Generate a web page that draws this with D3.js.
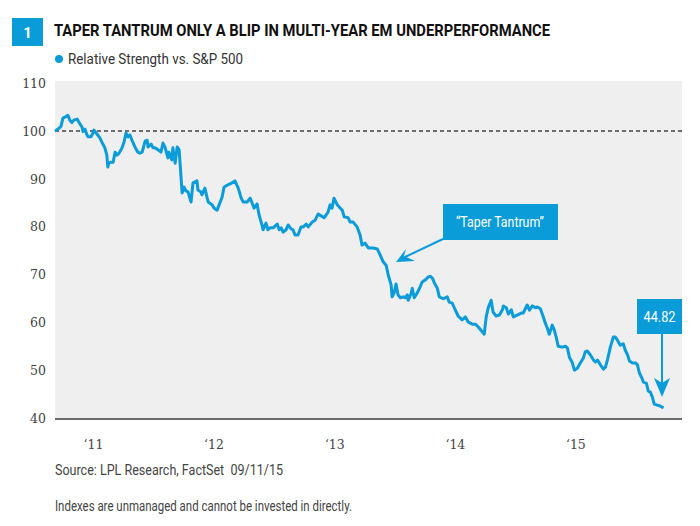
<!DOCTYPE html>
<html>
<head>
<meta charset="utf-8">
<script src="https://cdn.jsdelivr.net/npm/d3@7"></script>
<style>
  body { margin: 0; background: #fff; }
  svg { display: block; }
</style>
</head>
<body>
<div id="chart"></div>
<script>
const w = 700;
const h = 526;

// relative strength of EM vs S&P 500
const dates = [
  "2010-09-08","2010-09-20","2010-09-26","2010-10-02","2010-10-08","2010-10-17","2010-10-23","2010-10-29",
  "2010-11-04","2010-11-14","2010-11-20","2010-11-29","2010-12-02","2010-12-08","2010-12-14","2010-12-17",
  "2010-12-26","2011-01-01","2011-01-04","2011-01-13","2011-01-22","2011-01-28","2011-02-06","2011-02-12",
  "2011-02-15","2011-02-18","2011-02-25","2011-03-03","2011-03-09","2011-03-15","2011-03-21","2011-03-30",
  "2011-04-05","2011-04-11","2011-04-17","2011-04-23","2011-04-29","2011-05-08","2011-05-17","2011-05-23",
  "2011-05-30","2011-06-08","2011-06-14","2011-06-17","2011-06-26","2011-07-02","2011-07-08","2011-07-17",
  "2011-07-26","2011-08-01","2011-08-07","2011-08-16","2011-08-19","2011-08-28","2011-08-31","2011-09-07",
  "2011-09-13","2011-09-19","2011-09-28","2011-10-04","2011-10-10","2011-10-16","2011-10-25","2011-10-31",
  "2011-11-12","2011-11-15","2011-11-24","2011-11-27","2011-12-06","2011-12-13","2011-12-16","2011-12-28",
  "2012-01-03","2012-01-12","2012-01-18","2012-01-27","2012-02-02","2012-02-11","2012-02-20","2012-02-26",
  "2012-03-06","2012-03-16","2012-03-25","2012-03-31","2012-04-12","2012-04-21","2012-04-27","2012-05-03",
  "2012-05-12","2012-05-18","2012-05-27","2012-05-30","2012-06-08","2012-06-14","2012-06-20","2012-06-30",
  "2012-07-12","2012-07-18","2012-07-24","2012-07-30","2012-08-08","2012-08-14","2012-08-23","2012-08-29",
  "2012-09-04","2012-09-13","2012-09-22","2012-09-29","2012-10-08","2012-10-14","2012-10-26","2012-11-04",
  "2012-11-13","2012-11-22","2012-12-01","2012-12-13","2012-12-19","2012-12-25","2012-12-31","2013-01-10",
  "2013-01-19","2013-01-25","2013-01-31","2013-02-12","2013-02-18","2013-02-27","2013-03-11","2013-03-20",
  "2013-03-26","2013-04-04","2013-04-14","2013-04-23","2013-04-29","2013-05-11","2013-05-20","2013-05-29",
  "2013-06-07","2013-06-13","2013-06-22","2013-06-25","2013-07-01","2013-07-07","2013-07-13","2013-07-20",
  "2013-07-29","2013-08-04","2013-08-10","2013-08-13","2013-08-22","2013-08-25","2013-08-31","2013-09-09",
  "2013-09-18","2013-09-24","2013-10-03","2013-10-12","2013-10-18","2013-10-25","2013-10-31","2013-11-09",
  "2013-11-15","2013-11-27","2013-12-09","2013-12-15","2013-12-24","2014-01-02","2014-01-11","2014-01-23",
  "2014-02-02","2014-02-11","2014-02-23","2014-03-04","2014-03-13","2014-03-25","2014-03-31","2014-04-06",
  "2014-04-12","2014-04-21","2014-04-27","2014-05-06","2014-05-16","2014-05-25","2014-05-28","2014-06-06",
  "2014-06-12","2014-06-21","2014-06-27","2014-07-09","2014-07-21","2014-07-27","2014-08-08","2014-08-15",
  "2014-08-24","2014-09-02","2014-09-08","2014-09-17","2014-09-26","2014-10-02","2014-10-08","2014-10-14",
  "2014-10-23","2014-10-29","2014-11-04","2014-11-10","2014-11-23","2014-12-02","2014-12-08","2014-12-14",
  "2014-12-23","2014-12-29","2015-01-07","2015-01-16","2015-01-25","2015-01-31","2015-02-06","2015-02-15",
  "2015-02-25","2015-03-03","2015-03-09","2015-03-18","2015-03-27","2015-04-02","2015-04-08","2015-04-17",
  "2015-04-26","2015-05-02","2015-05-08","2015-05-17","2015-05-26","2015-06-01","2015-06-08","2015-06-14",
  "2015-06-23","2015-07-02","2015-07-08","2015-07-14","2015-07-23","2015-07-26","2015-08-04","2015-08-10",
  "2015-08-16","2015-08-22","2015-08-28","2015-09-06","2015-09-15","2015-09-25"
];
const values = [
  100.0,100.6,101.0,102.7,102.9,103.3,102.3,101.8,
  102.3,102.5,101.8,100.8,99.9,100.4,99.2,98.8,
  98.8,99.6,100.2,99.4,98.6,97.7,96.5,95.0,
  92.5,93.3,93.5,93.5,95.6,95.0,95.4,96.5,
  97.7,99.6,98.8,99.2,98.1,96.7,95.6,95.4,
  95.6,97.9,98.1,96.7,97.3,96.5,96.5,96.1,
  95.6,97.5,96.7,94.4,95.6,94.0,96.5,93.3,
  96.7,96.1,87.1,88.3,87.5,87.3,85.2,89.2,
  89.6,87.7,87.3,86.7,88.1,86.0,85.2,84.6,
  83.9,83.5,84.6,86.2,88.3,88.7,89.0,89.2,
  89.6,88.1,86.0,85.2,85.2,86.0,85.0,83.9,
  84.8,82.5,80.4,79.4,80.8,79.4,79.8,79.8,
  80.6,79.4,79.8,78.9,79.4,80.4,79.6,79.4,
  78.3,78.3,80.0,80.0,80.6,80.0,81.0,81.4,
  82.7,82.3,81.9,83.1,84.6,83.9,86.0,84.6,
  83.9,83.5,82.1,81.9,81.0,81.0,80.0,78.3,
  76.2,76.6,75.6,75.6,75.6,75.4,74.1,72.7,
  72.0,70.0,67.9,65.4,66.2,68.1,65.8,65.2,
  65.4,65.2,65.8,64.7,66.2,67.2,65.2,66.2,
  67.5,68.5,68.9,69.5,69.7,69.3,68.3,67.2,
  65.4,65.0,65.4,64.3,64.1,62.7,61.4,60.6,
  61.2,60.1,59.7,59.7,59.1,58.1,57.6,61.2,
  63.1,64.7,62.2,61.4,61.6,62.7,63.5,63.1,
  61.8,62.7,61.2,61.6,62.0,62.0,63.7,62.6,
  63.5,63.1,63.3,62.9,61.2,59.9,58.9,57.6,
  59.5,58.5,57.0,55.1,54.9,55.1,54.7,52.8,
  51.6,50.1,50.5,51.6,52.6,53.9,54.1,53.3,
  52.2,51.8,52.2,51.2,50.3,50.7,52.2,54.9,
  57.0,57.0,56.4,55.3,55.6,54.3,53.3,52.0,
  51.6,51.6,51.2,49.5,48.2,47.6,47.4,45.7,
  45.5,44.5,43.0,42.8,42.6,42.2
];

const yTicks = [40, 50, 60, 70, 80, 90, 100, 110];
const xTickDates = ["2011-01-01", "2012-01-01", "2013-01-01", "2014-01-01", "2015-01-01"];
const xTickLabels = ["\u201811", "\u201812", "\u201813", "\u201814", "\u201815"];
const lastValue = "44.82";

const blue = "#0a9bd9";
const parse = d3.timeParse("%Y-%m-%d");
const data = dates.map((d, i) => ({date: parse(d), value: values[i]}));

const svg = d3.select("#chart")
    .append("svg")
        .attr("width", w)
        .attr("height", h);

const x = d3.scaleTime()
    .domain([parse("2010-09-08"), parse("2015-11-20")])
    .range([55, 682]);
const y = d3.scaleLinear()
    .domain([40, 110])
    .range([418.5, 83.2]);

// title block
svg.append("rect")
    .attr("x", 12).attr("y", 18).attr("width", 31).attr("height", 28)
    .attr("fill", blue);
svg.append("text")
    .attr("x", 27.5).attr("y", 38)
    .attr("text-anchor", "middle")
    .attr("font-family", "Roboto").attr("font-weight", "bold").attr("font-size", 15)
    .attr("fill", "#fff")
    .text("1");
svg.append("text")
    .attr("x", 54).attr("y", 36)
    .attr("font-family", "Roboto").attr("font-weight", "bold").attr("font-size", 16)
    .attr("fill", "#111")
    .attr("textLength", 496).attr("lengthAdjust", "spacingAndGlyphs")
    .text("TAPER TANTRUM ONLY A BLIP IN MULTI-YEAR EM UNDERPERFORMANCE");

// legend
svg.append("circle")
    .attr("cx", 59).attr("cy", 59).attr("r", 4)
    .attr("fill", blue);
svg.append("text")
    .attr("x", 68).attr("y", 64)
    .attr("font-family", "Roboto").attr("font-size", 14)
    .attr("fill", "#333")
    .attr("textLength", 175).attr("lengthAdjust", "spacingAndGlyphs")
    .text("Relative Strength vs. S&P 500");

// plot background
svg.append("rect")
    .attr("x", 55).attr("y", 81).attr("width", 627).attr("height", 338)
    .attr("fill", "#efefef");

// y axis labels
const yAxis = d3.axisLeft(y).tickValues(yTicks).tickSize(0).tickPadding(9);
svg.append("g")
    .attr("transform", "translate(55,0)")
    .call(yAxis)
    .call(g => g.select(".domain").remove())
    .selectAll("text")
        .attr("font-family", "DejaVu Serif").attr("font-size", 12.5)
        .attr("fill", "#444");

// x axis
const xAxis = d3.axisBottom(x)
    .tickValues(xTickDates.map(parse))
    .tickFormat((d, i) => xTickLabels[i])
    .tickSize(0).tickPadding(21);
svg.append("g")
    .attr("transform", "translate(0,419)")
    .call(xAxis)
    .call(g => g.select(".domain").remove())
    .selectAll("text")
        .attr("font-family", "DejaVu Serif").attr("font-size", 12.5)
        .attr("fill", "#444");
svg.append("line")
    .attr("x1", 55).attr("x2", 682)
    .attr("y1", 419).attr("y2", 419)
    .attr("stroke", "#6b6b6b").attr("stroke-width", 2);

// 100 reference line
svg.append("line")
    .attr("x1", 55).attr("x2", 682)
    .attr("y1", y(100)).attr("y2", y(100))
    .attr("stroke", "#444").attr("stroke-width", 1.5)
    .attr("stroke-dasharray", "4,3");

// the series
const line = d3.line()
    .x(d => x(d.date))
    .y(d => y(d.value));
svg.append("path")
    .datum(data)
    .attr("d", line)
    .attr("fill", "none")
    .attr("stroke", blue)
    .attr("stroke-width", 3)
    .attr("stroke-linejoin", "round");

// "Taper Tantrum" callout
svg.append("rect")
    .attr("x", 443).attr("y", 204).attr("width", 115).attr("height", 36)
    .attr("fill", blue);
svg.append("text")
    .attr("x", 500).attr("y", 227)
    .attr("text-anchor", "middle")
    .attr("font-family", "Roboto").attr("font-size", 15)
    .attr("fill", "#fff")
    .attr("textLength", 88).attr("lengthAdjust", "spacingAndGlyphs")
    .text("\u201CTaper Tantrum\u201D");
svg.append("line")
    .attr("x1", 443).attr("y1", 239).attr("x2", 405).attr("y2", 257)
    .attr("stroke", blue).attr("stroke-width", 2);
svg.append("path")
    .attr("d", "M396,262 L406,249 L404,256 L415,261 Z")
    .attr("fill", blue);

// last value callout
svg.append("rect")
    .attr("x", 637).attr("y", 299).attr("width", 45).attr("height", 35)
    .attr("fill", blue);
svg.append("text")
    .attr("x", 659.5).attr("y", 322)
    .attr("text-anchor", "middle")
    .attr("font-family", "Roboto").attr("font-size", 15)
    .attr("fill", "#fff")
    .attr("textLength", 32).attr("lengthAdjust", "spacingAndGlyphs")
    .text(lastValue);
svg.append("line")
    .attr("x1", 662).attr("y1", 334).attr("x2", 662).attr("y2", 385)
    .attr("stroke", blue).attr("stroke-width", 2);
svg.append("path")
    .attr("d", "M662,397 L654,378 L662,383 L670,378 Z")
    .attr("fill", blue);

// footer
svg.append("text")
    .attr("x", 55).attr("y", 475)
    .attr("font-family", "Roboto").attr("font-size", 14)
    .attr("fill", "#444")
    .attr("textLength", 228).attr("lengthAdjust", "spacingAndGlyphs")
    .text("Source: LPL Research, FactSet \u00A009/11/15");
svg.append("text")
    .attr("x", 55).attr("y", 511)
    .attr("font-family", "Roboto").attr("font-size", 14)
    .attr("fill", "#444")
    .attr("textLength", 297).attr("lengthAdjust", "spacingAndGlyphs")
    .text("Indexes are unmanaged and cannot be invested in directly.");
</script>
</body>
</html>
